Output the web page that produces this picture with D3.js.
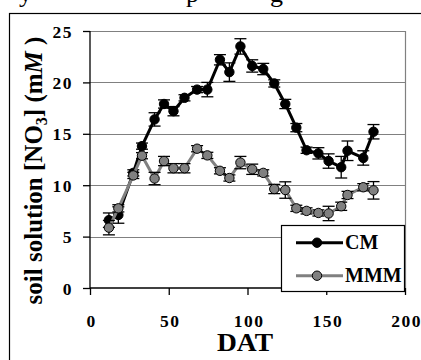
<!DOCTYPE html>
<html><head><meta charset="utf-8">
<script src="https://cdn.jsdelivr.net/npm/d3@7"></script>
<style>body{margin:0;background:#fff}svg{display:block}
svg text{font-family:"Liberation Serif","Times New Roman",serif !important;}</style>
</head><body>
<svg id="c" width="421" height="360"></svg>
<script>
const dat = [12,18,27.5,33,41,47,53,60,68,74.5,82.5,88.5,95.5,103,110,117,124,131,137.5,145,151.5,159.5,163.5,173.5,180];
const cmValues = [6.6,7.1,11.2,13.8,16.4,17.9,17.2,18.5,19.3,19.3,22.2,21.0,23.5,21.6,21.3,19.9,17.9,15.6,13.4,13.1,12.35,11.75,13.35,12.65,15.2];
const cmErrors = [0.7,0.8,0.3,0.3,0.65,0.4,0.45,0.3,0.3,0.7,0.5,0.9,0.75,0.6,0.55,0.35,0.45,0.4,0.3,0.55,0.7,1.05,0.95,0.7,0.7];
const mmmValues = [5.87,7.75,10.95,12.87,10.65,12.35,11.65,11.65,13.55,12.9,11.4,10.7,12.2,11.55,11.2,9.63,9.53,7.75,7.5,7.3,7.25,7.95,9.05,9.8,9.5];
const mmmErrors = [0.7,0.35,0.3,0.3,0.6,0.45,0.45,0.45,0.3,0.3,0.3,0.3,0.6,0.5,0.3,0.45,0.8,0.3,0.3,0.3,0.7,0.4,0.35,0.35,0.85];
const xTicks = [0,50,100,150,200];
const yTicks = [0,5,10,15,20,25];
const seriesNames = ["CM","MMM"];
const seriesColors = ["#000000","#808080"];

const svg = d3.select("#c");
const x = d3.scaleLinear().domain([0,200]).range([90,405]);
const y = d3.scaleLinear().domain([0,25]).range([288,31]);

// top cut-off caption fragments
svg.append("g").attr("font-size",26).attr("fill","#000")
  .selectAll("text").data([["y",19],["p",186],["g",270]]).join("text")
  .attr("x",d=>d[1]).attr("y",2).text(d=>d[0]);

// outer frame
svg.append("rect").attr("x",9.5).attr("y",13.5).attr("width",430).attr("height",400)
  .attr("fill","none").attr("stroke","#000").attr("stroke-width",1.2);

// gridlines
svg.append("g").selectAll("line").data(yTicks.filter(v=>v>0)).join("line")
  .attr("x1",x(0)).attr("x2",x(200)).attr("y1",d=>Math.round(y(d))+0.5).attr("y2",d=>Math.round(y(d))+0.5)
  .attr("stroke","#808080").attr("stroke-width",1.2);
// right plot border
svg.append("line").attr("x1",x(200)+0.5).attr("x2",x(200)+0.5).attr("y1",y(25)).attr("y2",y(0))
  .attr("stroke","#808080").attr("stroke-width",1.2);

// axes
const yAxis = svg.append("g").attr("transform",`translate(${x(0)},0)`)
  .call(d3.axisLeft(y).tickValues(yTicks).tickSize(7).tickPadding(11));
const xAxis = svg.append("g").attr("transform",`translate(0,${y(0)})`)
  .call(d3.axisBottom(x).tickValues(xTicks).tickSize(7));
[yAxis,xAxis].forEach(a=>{
  a.attr("font-family",null);
  a.select(".domain").attr("stroke","#000").attr("stroke-width",1.3);
  a.selectAll(".tick line").attr("stroke","#000").attr("stroke-width",1.3);
  a.selectAll("text").attr("font-weight","bold").attr("font-size",17.5).attr("fill","#000")
    .attr("letter-spacing",1.5);
});
xAxis.selectAll(".tick text").attr("y",38.5).attr("dy",0).attr("dx",1);
yAxis.selectAll(".tick text").attr("dy","0.35em").attr("dx",1);
xAxis.select(".domain").attr("d",`M${x(0)},0H${x(200)}`);
yAxis.select(".domain").attr("d",`M0,${y(0)}V${y(25)}`);

// axis titles
svg.append("text").attr("x",245).attr("y",350.5).attr("text-anchor","middle")
  .attr("font-weight","bold").attr("font-size",26).attr("textLength",56)
  .attr("lengthAdjust","spacingAndGlyphs").text("DAT");
const yl = svg.append("text").attr("transform","translate(42,170.5) rotate(-90)")
  .attr("text-anchor","middle").attr("font-weight","bold").attr("font-size",25);
yl.append("tspan").text("soil solution [NO");
yl.append("tspan").attr("font-size",16).attr("dy",5).text("3");
yl.append("tspan").attr("dy",-5).text("] (m");
yl.append("tspan").attr("font-style","italic").text("M");
yl.append("tspan").text(" )");

// series
const series = [
  {vals:cmValues, errs:cmErrors, color:seriesColors[0], fill:"#000"},
  {vals:mmmValues, errs:mmmErrors, color:seriesColors[1], fill:"#808080"}
];
const line = d3.line().x(d=>x(d[0])).y(d=>y(d[1]));
series.forEach(s=>{
  const pts = dat.map((d,i)=>[d,s.vals[i],s.errs[i]]);
  const g = svg.append("g");
  g.append("path").attr("d",line(pts)).attr("fill","none").attr("stroke",s.color).attr("stroke-width",3).attr("stroke-linejoin","round");
  const eb = g.append("g").attr("stroke","#000").attr("stroke-width",1.3);
  eb.selectAll(".v").data(pts).join("line").attr("x1",d=>x(d[0])).attr("x2",d=>x(d[0]))
    .attr("y1",d=>y(d[1]-d[2])).attr("y2",d=>y(d[1]+d[2]));
  eb.selectAll(".t").data(pts).join("line").attr("x1",d=>x(d[0])-6).attr("x2",d=>x(d[0])+6)
    .attr("y1",d=>y(d[1]+d[2])).attr("y2",d=>y(d[1]+d[2]));
  eb.selectAll(".b").data(pts).join("line").attr("x1",d=>x(d[0])-6).attr("x2",d=>x(d[0])+6)
    .attr("y1",d=>y(d[1]-d[2])).attr("y2",d=>y(d[1]-d[2]));
  g.selectAll("circle").data(pts).join("circle").attr("cx",d=>x(d[0])).attr("cy",d=>y(d[1]))
    .attr("r",4.7).attr("fill",s.fill).attr("stroke","#000").attr("stroke-width",1);
});

// legend
const lg = svg.append("g");
lg.append("rect").attr("x",281.5).attr("y",225.5).attr("width",123).attr("height",66)
  .attr("fill","#fff").attr("stroke","#000").attr("stroke-width",1.2);
const rows = [242.7,275.7];
seriesNames.forEach((n,i)=>{
  lg.append("line").attr("x1",296).attr("x2",343).attr("y1",rows[i]).attr("y2",rows[i])
    .attr("stroke",seriesColors[i]).attr("stroke-width",3);
  lg.append("circle").attr("cx",317).attr("cy",rows[i]).attr("r",4.7)
    .attr("fill",series[i].fill).attr("stroke","#000").attr("stroke-width",1);
  lg.append("text").attr("x",345).attr("y",rows[i]+6.5)
    .attr("font-weight","bold").attr("font-size",20).text(n);
});
</script>
</body></html>
